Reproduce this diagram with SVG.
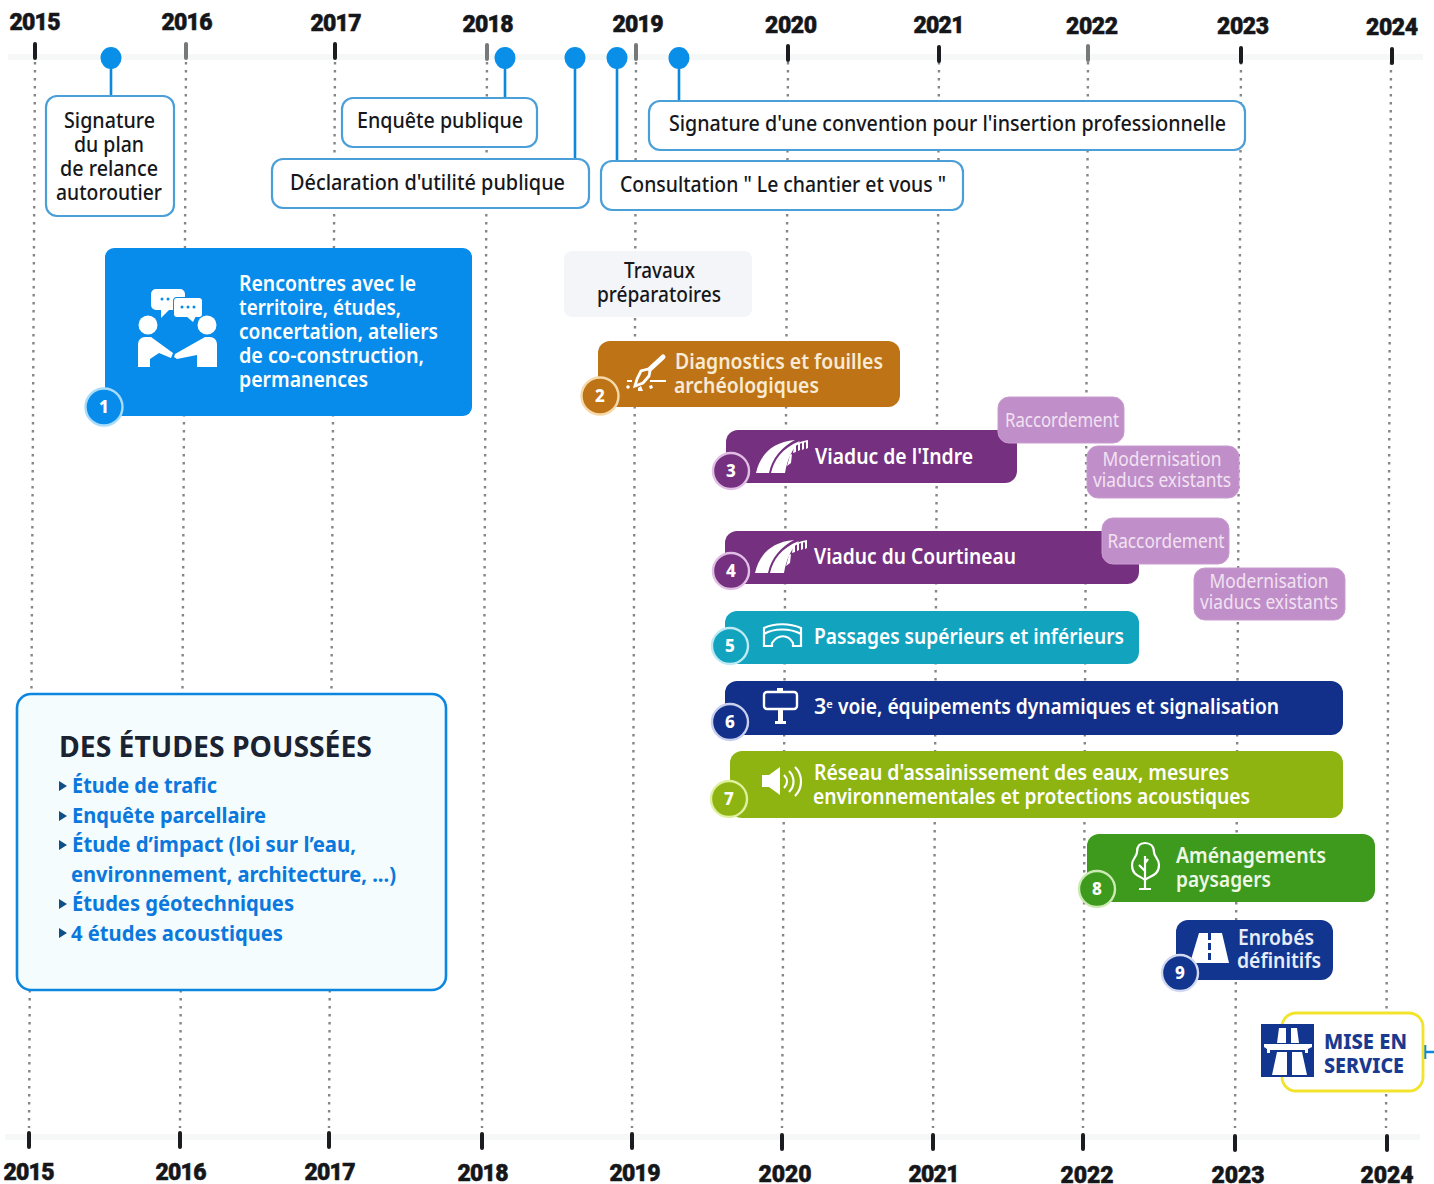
<svg xmlns="http://www.w3.org/2000/svg" width="1434" height="1184" viewBox="0 0 1434 1184">
<style>
text{font-family:"Noto Sans","Open Sans",sans-serif;font-weight:500}
.yr{font-family:"Roboto","Liberation Sans",sans-serif;font-weight:900;font-size:23px;fill:#15161a;stroke:#15161a;stroke-width:.5;text-anchor:middle}
.tick{stroke:#1c1c20;stroke-width:4;stroke-linecap:round}
.grey{stroke:#77787a}
.grid{stroke:#85868a;stroke-width:2.4;stroke-dasharray:2.4 5.6;fill:none}
.band{fill:#f6f7f7}
.stem{stroke:#0d88dd;stroke-width:2.6;fill:none}
.dot{fill:#0a8fe8}
.call{fill:#fff;stroke:#4b9fd8;stroke-width:2.2}
.ct{font-size:21px;fill:#16171b;text-anchor:middle}
.w{fill:#fff;font-size:21.5px;font-weight:600}
.n{fill:#fff;font-size:17px;font-weight:800;text-anchor:middle}
.ring{stroke-width:2.4}
.lab{fill:#c08fc9;stroke:#c89ccf;stroke-width:1}
.lt{fill:#f1e2f2;font-size:19px;text-anchor:middle;font-weight:400}
.ic{fill:#fff}
.icl{fill:none;stroke:#fff;stroke-width:2.2}
.st{fill:#0a78dc;font-size:22px;font-weight:700}
.tri{fill:#0f4f86}
</style>
<defs>
<g id="bridge" fill="#fff"><path d="M0 34C4 16 16 3 39 1C26 8 16 19 13 34Z"/><path d="M15 34C18 21 26 9 44 2C36 10 31 21 29 34Z"/><path d="M31 27l3-11 2-1-1 9zM37 14l1-7 2-1v7zM42 12V5l2-1v7zM46 11V3h2v7zM50 10V2h2v7z"/><path d="M34 8c5-4 12-6 18-7v2c-6 0-12 3-17 7z"/></g>
</defs>
<rect width="1434" height="1184" fill="#fff"/>
<g id="connectors">
<rect class="band" x="8" y="54" width="1415" height="6"/>
<rect class="band" x="5" y="1134" width="1415" height="6"/>
<path class="grid" d="M35 62L29 1128"/><path class="grid" d="M186 62L180 1128"/><path class="grid" d="M335 62L329 1128"/><path class="grid" d="M487 62L482 1128"/><path class="grid" d="M636 62L632 1128"/><path class="grid" d="M788 62L782 1128"/><path class="grid" d="M939 62L933 1128"/><path class="grid" d="M1088 62L1083 1128"/><path class="grid" d="M1241 62L1235 1128"/><path class="grid" d="M1391 62L1386 1128"/>
<path class="stem" d="M111 60V96M505 60V98M575 60V158M617 60V160M679 60V100"/>
<path class="stem" d="M1424 1052H1434M1425 1045V1059"/>
</g>
<g id="axis-top">
<path class="tick" d="M35 44V58M335 44V58M788 46V60M939 47V61M1241 48V62M1392 49V63"/>
<path class="tick grey" d="M186 44V58M487 45V59M636 45V59M1088 46V60"/>
<text class="yr" x="35" y="30" textLength="51">2015</text><text class="yr" x="187" y="30" textLength="51">2016</text><text class="yr" x="336" y="31" textLength="51">2017</text><text class="yr" x="488" y="32" textLength="51">2018</text><text class="yr" x="638" y="32" textLength="51">2019</text><text class="yr" x="791" y="33" textLength="52">2020</text><text class="yr" x="939" y="33" textLength="51">2021</text><text class="yr" x="1092" y="34" textLength="52">2022</text><text class="yr" x="1243" y="34" textLength="52">2023</text><text class="yr" x="1392" y="35" textLength="52">2024</text>
</g>
<g id="axis-bottom">
<path class="tick" d="M29 1133V1147M180 1133V1147M329 1133V1147M482 1134V1148M632 1134V1148M782 1135V1149M933 1135V1149M1083 1135V1149M1235 1136V1150M1387 1136V1150"/>
<text class="yr" x="29" y="1180" textLength="51">2015</text><text class="yr" x="181" y="1180" textLength="51">2016</text><text class="yr" x="330" y="1180" textLength="51">2017</text><text class="yr" x="483" y="1181" textLength="51">2018</text><text class="yr" x="635" y="1181" textLength="51">2019</text><text class="yr" x="785" y="1182" textLength="53">2020</text><text class="yr" x="934" y="1182" textLength="51">2021</text><text class="yr" x="1087" y="1183" textLength="53">2022</text><text class="yr" x="1238" y="1183" textLength="53">2023</text><text class="yr" x="1387" y="1183" textLength="53">2024</text>
</g>
<g id="m1"><ellipse class="dot" cx="111" cy="58" rx="10.5" ry="11"/><rect class="call" x="46" y="96" width="128" height="120" rx="11"/><text class="ct" x="109.500" y="128" textLength="91" lengthAdjust="spacingAndGlyphs">Signature</text><text class="ct" x="109" y="152" textLength="70" lengthAdjust="spacingAndGlyphs">du plan</text><text class="ct" x="109" y="176" textLength="98" lengthAdjust="spacingAndGlyphs">de relance</text><text class="ct" x="109" y="200" textLength="106" lengthAdjust="spacingAndGlyphs">autoroutier</text></g>
<g id="m2"><ellipse class="dot" cx="505" cy="58" rx="10.5" ry="11"/><rect class="call" x="342" y="98" width="195" height="49" rx="11"/><text class="ct" x="440" y="128" textLength="166" lengthAdjust="spacingAndGlyphs">Enquête publique</text></g>
<g id="m3"><ellipse class="dot" cx="575" cy="58" rx="10.5" ry="11"/><rect class="call" x="272" y="159" width="317" height="49" rx="11"/><text class="ct" x="427.500" y="190" textLength="275" lengthAdjust="spacingAndGlyphs">Déclaration d'utilité publique</text></g>
<g id="m4"><ellipse class="dot" cx="617" cy="58" rx="10.5" ry="11"/><rect class="call" x="601" y="161" width="362" height="49" rx="11"/><text class="ct" x="783" y="192" textLength="326" lengthAdjust="spacingAndGlyphs">Consultation " Le chantier et vous "</text></g>
<g id="m5"><ellipse class="dot" cx="679" cy="58" rx="10.5" ry="11"/><rect class="call" x="649" y="101" width="596" height="49" rx="11"/><text class="ct" x="947.500" y="131" textLength="557" lengthAdjust="spacingAndGlyphs">Signature d'une convention pour l'insertion professionnelle</text></g>
<g id="n1"><rect x="105" y="248" width="367" height="168" rx="9" fill="#078ceb"/>
<g class="ic"><path d="M156 289h24a5 5 0 0 1 5 5v3h-8a4 4 0 0 0-4 4v9h-4l-8 8v-8h-5a5 5 0 0 1-5-5v-11a5 5 0 0 1 5-5z"/><rect x="174" y="298" width="28" height="19" rx="3"/><path d="M186 316h10l-3 6z"/><circle cx="148" cy="325" r="9.500"/><circle cx="207" cy="325" r="9.500"/><path d="M138 367v-23a7 7 0 0 1 7-7h6l22 16-2 5-12-5-9 6v8zM217 367v-23a7 7 0 0 0-7-7h-5l-30 17-1 3 3 2 20-4 0 12z"/></g>
<g fill="#078ceb"><circle cx="162" cy="299" r="1.500"/><circle cx="168" cy="299" r="1.500"/><circle cx="182" cy="307" r="1.500"/><circle cx="188" cy="307" r="1.500"/><circle cx="194" cy="307" r="1.500"/></g>
<circle cx="104" cy="407" r="18.500" fill="#078ceb" stroke="#a9dcf8" class="ring"/><text class="n" x="104" y="413">1</text>
<text class="w" x="239" y="291" textLength="177" lengthAdjust="spacingAndGlyphs">Rencontres avec le</text><text class="w" x="239" y="315" textLength="162" lengthAdjust="spacingAndGlyphs">territoire, études,</text><text class="w" x="239" y="339" textLength="199" lengthAdjust="spacingAndGlyphs">concertation, ateliers</text><text class="w" x="239" y="363" textLength="185" lengthAdjust="spacingAndGlyphs">de co-construction,</text><text class="w" x="239" y="387" textLength="129" lengthAdjust="spacingAndGlyphs">permanences</text></g>
<g id="n-prep"><rect x="564" y="251" width="188" height="66" rx="8" fill="#f3f5f8"/><text class="ct" x="659.500" y="278" textLength="71" lengthAdjust="spacingAndGlyphs">Travaux</text><text class="ct" x="659" y="302" textLength="124" lengthAdjust="spacingAndGlyphs">préparatoires</text></g>
<g id="n2"><rect x="598" y="341" width="302" height="66" rx="12" fill="#bd7316"/>
<path d="M650 369L663 357" stroke="#fff" stroke-width="5" stroke-linecap="round"/>
<path d="M648 369l-7 2-4 8-2 7 8-3 6-7 1-5z" fill="none" stroke="#fff" stroke-width="2.800"/>
<path d="M650 381h16M627 381h5" stroke="#fff" stroke-width="2"/><g class="ic"><circle cx="628" cy="387" r="1.800"/><path d="M638 388l3-2 2 5h-5zM649 386l3-1 1 3-3 1z"/></g>
<circle cx="600" cy="396" r="18.500" fill="#bd7316" stroke="#f6d9a8" class="ring"/><text class="n" x="600" y="402">2</text>
<text class="w" x="675" y="369" style="fill:#f8ead4" textLength="208" lengthAdjust="spacingAndGlyphs">Diagnostics et fouilles</text><text class="w" x="674" y="393" style="fill:#f8ead4" textLength="145" lengthAdjust="spacingAndGlyphs">archéologiques</text></g>
<g id="n3"><rect x="726" y="430" width="291" height="53" rx="12" fill="#75307f"/>
<use href="#bridge" x="756" y="439"/>
<circle cx="731" cy="471" r="18" fill="#75307f" stroke="#e1bfe4" class="ring"/><text class="n" x="731" y="477">3</text>
<text class="w" x="815" y="464" textLength="158" lengthAdjust="spacingAndGlyphs">Viaduc de l'Indre</text></g>
<g id="n3a"><rect class="lab" x="998" y="397" width="126" height="46" rx="11"/><text class="lt" x="1062" y="427" textLength="114" lengthAdjust="spacingAndGlyphs">Raccordement</text></g>
<g id="n3b"><rect class="lab" x="1087" y="446" width="152" height="52" rx="11"/><text class="lt" x="1162" y="466" textLength="119" lengthAdjust="spacingAndGlyphs">Modernisation</text><text class="lt" x="1162" y="487" textLength="138" lengthAdjust="spacingAndGlyphs">viaducs existants</text></g>
<g id="n4"><rect x="725" y="531" width="414" height="53" rx="12" fill="#75307f"/>
<use href="#bridge" x="755" y="539"/>
<circle cx="731" cy="571" r="18" fill="#75307f" stroke="#e1bfe4" class="ring"/><text class="n" x="731" y="577">4</text>
<text class="w" x="814" y="564" textLength="202" lengthAdjust="spacingAndGlyphs">Viaduc du Courtineau</text></g>
<g id="n4a"><rect class="lab" x="1102" y="518" width="127" height="46" rx="11"/><text class="lt" x="1166" y="548" textLength="117" lengthAdjust="spacingAndGlyphs">Raccordement</text></g>
<g id="n4b"><rect class="lab" x="1194" y="568" width="151" height="52" rx="11"/><text class="lt" x="1269" y="588" textLength="119" lengthAdjust="spacingAndGlyphs">Modernisation</text><text class="lt" x="1269" y="609" textLength="138" lengthAdjust="spacingAndGlyphs">viaducs existants</text></g>
<g id="n5"><rect x="725" y="611" width="414" height="53" rx="12" fill="#12a3bf"/>
<path class="icl" d="M764 646v-18c10-5 26-5 37 0v18h-8v-3c-5-9-15-9-21 0v3zM764 634c10-6 26-6 37 0"/>
<circle cx="730" cy="646" r="18" fill="#12a3bf" stroke="#bdeaf3" class="ring"/><text class="n" x="730" y="652">5</text>
<text class="w" x="814" y="644" textLength="310" lengthAdjust="spacingAndGlyphs">Passages supérieurs et inférieurs</text></g>
<g id="n6"><rect x="725" y="681" width="618" height="54" rx="12" fill="#122f8a"/>
<g><rect x="764" y="692" width="33" height="17" rx="3" fill="none" stroke="#fff" stroke-width="2.400"/><path class="ic" d="M777 688h6v4h-6zM778 709h5v12h-5zM775 721h11v3h-11z"/></g>
<circle cx="730" cy="722" r="18" fill="#122f8a" stroke="#c8d0ee" class="ring"/><text class="n" x="730" y="728">6</text>
<text class="w" x="814" y="714">3<tspan dy="-6" font-size="11">e</tspan></text><text class="w" x="838" y="714" textLength="441" lengthAdjust="spacingAndGlyphs">voie, équipements dynamiques et signalisation</text></g>
<g id="n7"><rect x="730" y="751" width="613" height="67" rx="12" fill="#8eb411"/>
<g><path class="ic" d="M762 775h7l11-8v28l-11-8h-7z"/><path class="icl" d="M784 775c4 4 4 9 0 13M789 771c6 6 6 15 0 21M795 767c8 8 8 21 0 29"/></g>
<circle cx="729" cy="799" r="18" fill="#8eb411" stroke="#dff0a0" class="ring"/><text class="n" x="729" y="805">7</text>
<text class="w" x="814" y="780" textLength="415" lengthAdjust="spacingAndGlyphs">Réseau d'assainissement des eaux, mesures</text><text class="w" x="813" y="804" textLength="437" lengthAdjust="spacingAndGlyphs">environnementales et protections acoustiques</text></g>
<g id="n8"><rect x="1087" y="834" width="288" height="68" rx="12" fill="#3d9a1d"/>
<path class="icl" d="M1145 880c-4-4-13-4-13-15 0-7 5-8 5-13 0-6 3-9 8-9s9 3 9 9c0 5 5 6 5 13 0 11-10 11-14 15zM1145 856v33M1145 871l-6-6M1145 863l3-4M1139 889h12"/>
<circle cx="1097" cy="889" r="18" fill="#3d9a1d" stroke="#cdeab4" class="ring"/><text class="n" x="1097" y="895">8</text>
<text class="w" x="1176" y="863" style="fill:#eef7e4" textLength="150" lengthAdjust="spacingAndGlyphs">Aménagements</text><text class="w" x="1176" y="887" style="fill:#eef7e4" textLength="95" lengthAdjust="spacingAndGlyphs">paysagers</text></g>
<g id="n9"><rect x="1176" y="920" width="157" height="60" rx="12" fill="#12358f"/>
<path class="ic" d="M1199 933h23l7 30h-39z"/><path d="M1209.500 933v30" stroke="#12358f" stroke-width="3" stroke-dasharray="7 3" fill="none"/>
<circle cx="1180" cy="973" r="18" fill="#12358f" stroke="#d3daf0" class="ring"/><text class="n" x="1180" y="979">9</text>
<text class="w" x="1238" y="945" style="fill:#e8ecf8" textLength="76" lengthAdjust="spacingAndGlyphs">Enrobés</text><text class="w" x="1237" y="968" style="fill:#e8ecf8" textLength="84" lengthAdjust="spacingAndGlyphs">définitifs</text></g>
<g id="study"><rect x="17" y="694" width="429" height="296" rx="14" fill="#f4fcfd" stroke="#0c86de" stroke-width="2.600"/>
<text x="59" y="757" font-size="28" style="font-weight:700;fill:#1b2231" textLength="313" lengthAdjust="spacingAndGlyphs">DES ÉTUDES POUSSÉES</text>
<path class="tri" d="M59 781l8 5-8 5zM59 811l8 5-8 5zM59 840l8 5-8 5zM59 899l8 5-8 5zM59 928l8 5-8 5z"/>
<text class="st" x="72" y="793" textLength="145" lengthAdjust="spacingAndGlyphs">Étude de trafic</text><text class="st" x="72" y="823" textLength="194" lengthAdjust="spacingAndGlyphs">Enquête parcellaire</text><text class="st" x="72" y="852" textLength="284" lengthAdjust="spacingAndGlyphs">Étude d’impact (loi sur l’eau,</text><text class="st" x="71" y="882" textLength="325" lengthAdjust="spacingAndGlyphs">environnement, architecture, ...)</text><text class="st" x="72" y="911" textLength="222" lengthAdjust="spacingAndGlyphs">Études géotechniques</text><text class="st" x="71" y="941" textLength="212" lengthAdjust="spacingAndGlyphs">4 études acoustiques</text></g>
<g id="service"><rect x="1282" y="1013" width="141" height="78" rx="14" fill="#fff" stroke="#f2e32c" stroke-width="2.800"/>
<rect x="1261" y="1024" width="53" height="53" fill="#12358f"/>
<path class="ic" d="M1279 1028h7v15h-9zM1291 1028h6l2 15h-8zM1264 1044h48v3l-4 2v4h-3v-3h-35v3h-3v-4l-3-2zM1277 1052h10v23h-15zM1292 1052h10l5 23h-15z"/>
<text x="1324" y="1049" font-size="22" style="font-weight:800;fill:#1a3a8f" textLength="83" lengthAdjust="spacingAndGlyphs">MISE EN</text><text x="1324" y="1073" font-size="22" style="font-weight:800;fill:#1a3a8f" textLength="80" lengthAdjust="spacingAndGlyphs">SERVICE</text></g>
</svg>
